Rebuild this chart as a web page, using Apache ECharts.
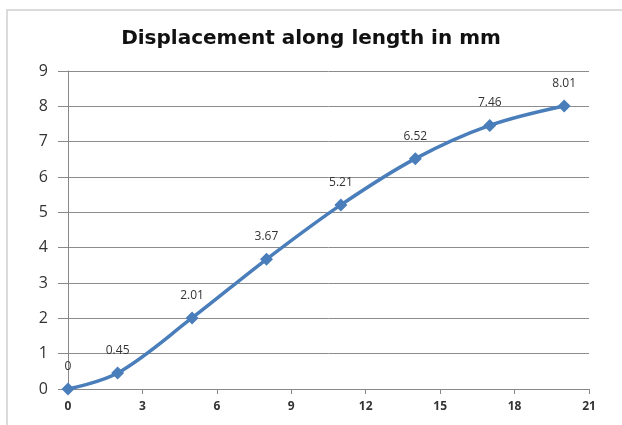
<!DOCTYPE html>
<html><head><meta charset="utf-8">
<script src="https://cdn.jsdelivr.net/npm/echarts@6/dist/echarts.min.js"></script>
<style>html,body{margin:0;padding:0;background:#fff}#c{width:622px;height:425px}</style>
</head><body><div id="c"></div>
<script>
const titleText = 'Displacement along length in mm';
const xValues = [0, 2, 5, 8, 11, 14, 17, 20];
const yValues = [0, 0.45, 2.01, 3.67, 5.21, 6.52, 7.46, 8.01];
const xTicks = [0, 3, 6, 9, 12, 15, 18, 21];
const yTicks = [0, 1, 2, 3, 4, 5, 6, 7, 8, 9];

const chart = echarts.init(document.getElementById('c'), null, {renderer: 'canvas'});
chart.setOption({
  animation: false,
  backgroundColor: '#fff',
  graphic: [{type: 'rect', shape: {x: 7, y: 10, width: 640, height: 440}, style: {fill: 'none', stroke: '#d0d0d0', lineWidth: 1.5}, z: -1}],
  title: {text: titleText, left: 'center', top: 24,
    textStyle: {fontFamily: 'DejaVu Sans', fontSize: 20, fontWeight: 'bold', color: '#111'}},
  grid: {left: 68, right: 33, top: 71, bottom: 36},
  xAxis: {type: 'value', min: xTicks[0], max: xTicks[xTicks.length-1], interval: 3,
    axisLine: {show: true, lineStyle: {color: '#888', width: 1}},
    axisTick: {show: true, length: 5, lineStyle: {color: '#888'}},
    splitLine: {show: false},
    axisLabel: {fontFamily: 'Open Sans', fontSize: 12, fontWeight: 'bold', color: '#333', margin: 12}},
  yAxis: {type: 'value', min: yTicks[0], max: yTicks[yTicks.length-1], interval: 1,
    axisLine: {show: true, lineStyle: {color: '#888', width: 1}},
    axisTick: {show: true, length: 10, lineStyle: {color: '#888'}},
    splitLine: {show: true, lineStyle: {color: '#8c8c8c', width: 1}},
    axisLabel: {fontFamily: 'Open Sans', fontSize: 16, color: '#333', margin: 20}},
  series: [{
    type: 'line', smooth: 0.35,
    data: xValues.map((x, i) => [x, yValues[i]]),
    symbol: 'diamond', symbolSize: 13,
    lineStyle: {color: '#4a7ebb', width: 3.5},
    itemStyle: {color: '#4a7ebb'},
    label: {show: true, position: 'top', distance: 10,
      fontFamily: 'Open Sans', fontSize: 12, color: '#333',
      formatter: p => String(yValues[p.dataIndex])}
  }]
});
</script></body></html>
